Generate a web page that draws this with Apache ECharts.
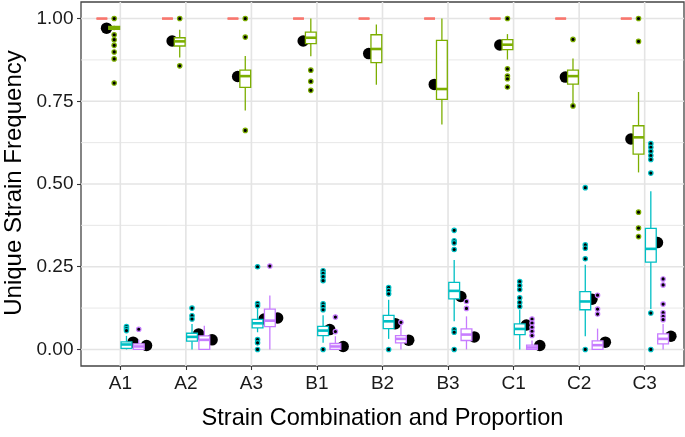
<!DOCTYPE html>
<html><head><meta charset="utf-8">
<script src="https://cdn.jsdelivr.net/npm/echarts@6/dist/echarts.min.js"></script>
<style>html,body{margin:0;padding:0;background:#fff}#c{width:685px;height:437px}</style>
</head><body><div id="c"></div><script>
const categories = ['A1','A2','A3','B1','B2','B3','C1','C2','C3'];
const yTicks = [0, 0.25, 0.5, 0.75, 1];
const yMinorLines = [0.125, 0.375, 0.625, 0.875];
const xTitle = 'Strain Combination and Proportion';
const yTitle = 'Unique Strain Frequency';

// [lower whisker, Q1, median, Q3, upper whisker]
const redBox = [[1,1,1,1,1],[1,1,1,1,1],[1,1,1,1,1],[1,1,1,1,1],[1,1,1,1,1],[1,1,1,1,1],[1,1,1,1,1],[1,1,1,1,1],[1,1,1,1,1]];
const redOutliers = [[],[],[],[],[],[],[],[],[]];

const greenBox = [
  [0.965, 0.967, 0.972, 0.976, 0.978],
  [0.882, 0.917, 0.931, 0.942, 0.966],
  [0.722, 0.792, 0.826, 0.844, 0.887],
  [0.886, 0.924, 0.942, 0.959, 1.0],
  [0.800, 0.867, 0.908, 0.951, 0.982],
  [0.680, 0.756, 0.787, 0.934, 1.0],
  [0.876, 0.906, 0.921, 0.936, 0.953],
  [0.742, 0.802, 0.826, 0.844, 0.879],
  [0.535, 0.590, 0.641, 0.676, 0.778]
];
const greenOutliers = [
  [1.0, 0.951, 0.936, 0.919, 0.899, 0.878, 0.805],
  [1.0, 0.857],
  [1.0, 0.944, 0.662],
  [0.844, 0.810, 0.783],
  [],
  [],
  [1.0, 0.848, 0.826, 0.818, 0.793],
  [0.937, 0.736],
  [1.0, 0.931, 0.415, 0.367, 0.341]
];
const greenMeans = [0.971, 0.932, 0.825, 0.932, 0.894, 0.801, 0.920, 0.823, 0.636];

const cyanBox = [
  [0.0, 0.003, 0.015, 0.023, 0.041],
  [0.0, 0.025, 0.038, 0.049, 0.077],
  [0.052, 0.065, 0.079, 0.091, 0.125],
  [0.020, 0.042, 0.057, 0.070, 0.103],
  [0.032, 0.063, 0.085, 0.103, 0.150],
  [0.085, 0.153, 0.177, 0.203, 0.270],
  [0.0, 0.045, 0.062, 0.077, 0.120],
  [0.040, 0.120, 0.145, 0.175, 0.256],
  [0.122, 0.264, 0.304, 0.366, 0.478]
];
const cyanOutliers = [
  [0.069, 0.063, 0.057],
  [0.125, 0.102, 0.092],
  [0.250, 0.139, 0.132, 0.030, 0.020, 0.0],
  [0.238, 0.230, 0.220, 0.208, 0.138, 0.130, 0.120, 0.0],
  [0.187, 0.178, 0.168, 0.0],
  [0.360, 0.328, 0.322, 0.302, 0.060, 0.052, 0.0],
  [0.205, 0.193, 0.181, 0.156, 0.142, 0.130],
  [0.489, 0.316, 0.306, 0.274, 0.0],
  [0.622, 0.611, 0.599, 0.586, 0.574, 0.533, 0.110, 0.0]
];
const cyanMeans = [0.022, 0.047, 0.092, 0.060, 0.078, 0.160, 0.074, 0.152, 0.323];

const purpleBox = [
  [0.0, 0.0, 0.009, 0.017, 0.029],
  [0.0, 0.0, 0.029, 0.041, 0.072],
  [0.0, 0.069, 0.087, 0.122, 0.163],
  [0.0, 0.0, 0.009, 0.018, 0.040],
  [0.0, 0.020, 0.032, 0.042, 0.075],
  [0.0, 0.027, 0.045, 0.062, 0.100],
  [0.0, 0.0, 0.006, 0.013, 0.027],
  [0.0, 0.0, 0.013, 0.026, 0.063],
  [0.0, 0.017, 0.032, 0.047, 0.077]
];
const purpleOutliers = [
  [0.061],
  [],
  [0.252],
  [0.098, 0.054],
  [0.082],
  [0.145, 0.124],
  [0.092, 0.080, 0.067, 0.055, 0.042],
  [0.164, 0.122, 0.107],
  [0.213, 0.195, 0.137, 0.111, 0.100, 0.090]
];
const purpleMeans = [0.012, 0.029, 0.095, 0.009, 0.028, 0.038, 0.012, 0.022, 0.040];

// ---- styling / layout ----
const FONT = '"Liberation Sans", Arial, sans-serif';
const BOX_W = 0.165;
const GRID_COLOR = '#E4E4E4';
const groups = [
  {color:'#F8766D', box:redBox, outliers:redOutliers, means:null, offset:-0.28125, meanOffset:0},
  {color:'#7CAE00', box:greenBox, outliers:greenOutliers, means:greenMeans, offset:-0.09375, meanOffset:-0.21},
  {color:'#00BFC4', box:cyanBox, outliers:cyanOutliers, means:cyanMeans, offset:0.09375, meanOffset:0.195},
  {color:'#C77CFF', box:purpleBox, outliers:purpleOutliers, means:purpleMeans, offset:0.28125, meanOffset:0.40}
];

function boxRender(offset, color) {
  return function (params, api) {
    const x = api.value(0) + offset;
    const lo = api.value(1), q1 = api.value(2), md = api.value(3), q3 = api.value(4), hi = api.value(5);
    const pHi = api.coord([x, hi]), pQ3 = api.coord([x, q3]), pQ1 = api.coord([x, q1]), pLo = api.coord([x, lo]), pMd = api.coord([x, md]);
    const left = api.coord([x - BOX_W / 2, q3])[0], right = api.coord([x + BOX_W / 2, q3])[0];
    return {type:'group', children:[
      {type:'line', shape:{x1:pHi[0], y1:pHi[1], x2:pQ3[0], y2:pQ3[1]}, style:{stroke:color, lineWidth:1.3}},
      {type:'line', shape:{x1:pQ1[0], y1:pQ1[1], x2:pLo[0], y2:pLo[1]}, style:{stroke:color, lineWidth:1.3}},
      {type:'rect', shape:{x:left, y:pQ3[1], width:right - left, height:pQ1[1] - pQ3[1]}, style:{fill:'#fff', stroke:color, lineWidth:1.3}},
      {type:'line', shape:{x1:left, y1:pMd[1], x2:right, y2:pMd[1]}, style:{stroke:color, lineWidth:2.6}}
    ]};
  };
}

// all panel grid lines drawn in one pass through the axes' scales
function gridRender(params, api) {
  const cs = params.coordSys;
  const children = [];
  yMinorLines.forEach(v => {
    const py = api.coord([0, v])[1];
    children.push({type:'line', shape:{x1:cs.x, y1:py, x2:cs.x + cs.width, y2:py}, style:{stroke:GRID_COLOR, lineWidth:0.9}});
  });
  yTicks.forEach(v => {
    const py = api.coord([0, v])[1];
    children.push({type:'line', shape:{x1:cs.x, y1:py, x2:cs.x + cs.width, y2:py}, style:{stroke:GRID_COLOR, lineWidth:1.6}});
  });
  categories.forEach((c, i) => {
    const px = api.coord([i, 0])[0];
    children.push({type:'line', shape:{x1:px, y1:cs.y, x2:px, y2:cs.y + cs.height}, style:{stroke:GRID_COLOR, lineWidth:1.6}});
  });
  return {type:'group', children:children};
}

const series = [{
  type:'custom', renderItem:gridRender, data:[[0, 0]], z:1, silent:true, clip:false
}];
groups.forEach(g => {
  if (g.means) {
    series.push({
      type:'scatter', z:2, silent:true, symbol:'circle', symbolSize:11.5,
      itemStyle:{color:'#000', opacity:1},
      data:g.means.map((v, i) => [i + g.meanOffset, v])
    });
  }
});
groups.forEach(g => {
  series.push({
    type:'custom', z:3, silent:true, renderItem:boxRender(g.offset, g.color),
    encode:{x:0, y:[1,2,3,4,5]},
    data:g.box.map((b, i) => [i].concat(b))
  });
  const pts = [];
  g.outliers.forEach((arr, i) => arr.forEach(v => pts.push([i + g.offset, v])));
  series.push({
    type:'scatter', z:4, silent:true, symbol:'circle', symbolSize:4.4,
    itemStyle:{color:'#000', borderColor:g.color, borderWidth:1.2, opacity:1},
    data:pts
  });
});

const chart = echarts.init(document.getElementById('c'), null, {renderer:'canvas'});
chart.setOption({
  animation:false,
  backgroundColor:'#fff',
  grid:{left:81, right:1, top:2, bottom:71, show:true, borderColor:'#444', borderWidth:1.3, backgroundColor:'#fff'},
  xAxis:{
    type:'value', min:-0.6, max:8.6,
    axisLine:{show:false, onZero:false},
    splitLine:{show:false},
    axisTick:{show:true, customValues:[0,1,2,3,4,5,6,7,8], length:4, lineStyle:{color:'#333', width:1.1}},
    axisLabel:{customValues:[0,1,2,3,4,5,6,7,8], formatter:v => categories[Math.round(v)], fontSize:19, color:'#1a1a1a', fontFamily:FONT, margin:8}
  },
  yAxis:{
    type:'value', min:-0.05, max:1.05,
    axisLine:{show:false, onZero:false},
    splitLine:{show:false},
    axisTick:{show:true, customValues:yTicks, length:4, lineStyle:{color:'#333', width:1.1}},
    axisLabel:{customValues:yTicks, formatter:v => v.toFixed(2), fontSize:19, color:'#1a1a1a', fontFamily:FONT, margin:7.5}
  },
  graphic:[
    {type:'text', silent:true, x:382.5, y:406,
     style:{text:xTitle, fontSize:23.6, fill:'#000', fontFamily:FONT, align:'center', verticalAlign:'top'}},
    {type:'text', silent:true, x:14, y:183, rotation:Math.PI / 2,
     style:{text:yTitle, fontSize:24, fill:'#000', fontFamily:FONT, align:'center', verticalAlign:'middle'}}
  ],
  series:series
});
</script></body></html>
